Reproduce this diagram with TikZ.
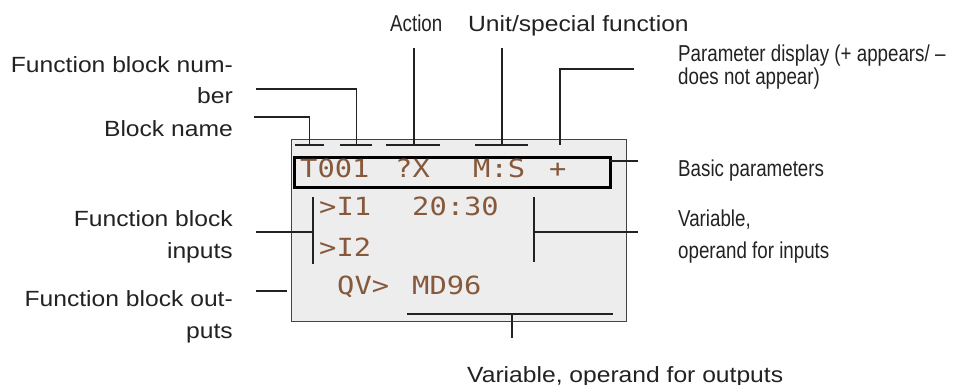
\documentclass[tikz,border=0pt]{standalone}
\usepackage{fontspec}
\setmainfont{Liberation Sans}[FakeStretch=1.12]
\newfontfamily\narrowfont{Liberation Sans}[FakeStretch=0.815]
\newfontfamily\lcdfont{DejaVu Sans Mono}[FakeStretch=1.15]
\usepackage{xcolor}
\usepackage{tikz}
\usetikzlibrary{positioning}
\definecolor{lcdgray}{HTML}{EDEDED}
\definecolor{lcdtext}{HTML}{86593C}
\definecolor{inkgray}{HTML}{222222}

\begin{document}
\begin{tikzpicture}[
  x=1pt,y=-1pt,
  lbl/.style={font=\fontsize{22}{32}\selectfont,text=inkgray,inner sep=0pt,align=right,anchor=base east},
  nlbl/.style={font=\narrowfont\fontsize{23}{23}\selectfont,text=inkgray,inner sep=0pt,align=left,anchor=base west},
  lcd/.style={font=\lcdfont\fontsize{25}{25}\selectfont,text=lcdtext,inner sep=0pt,anchor=base west},
  ln/.style={draw=inkgray,line width=1.2pt},
  bar/.style={draw=inkgray,line width=2.2pt}
]
\useasboundingbox (0,0) rectangle (960,385);
\node[draw=inkgray!85,line width=1.2pt,fill=lcdgray,minimum width=335pt,minimum height=182pt,inner sep=0pt,anchor=north west] (lcdbox) at (291,139) {};
\node[draw=black,line width=2.5pt,minimum width=316pt,minimum height=30pt,inner sep=0pt,anchor=north west] (parbox) at (293,156) {};

\node[lcd] (tname) at (300,177) {T001};
\node[lcd] (tact) at (395,177) {?X};
\node[lcd] (tunit) at (473,177) {M:S};
\node[lcd] (tplus) at (549,177) {+};
\node[lcd] (in1) at (319,215) {>I1};
\node[lcd] (in1val) at (412,215) {20:30};
\node[lcd] (in2) at (319,256) {>I2};
\node[lcd] (qv) at (337,294) {QV>};
\node[lcd] (qvval) at (412,294) {MD96};

\node[lbl] (fbnum) at (233,104) {Function block num-\\ber};
\node[lbl] (blkname) at (233,136) {Block name};
\node[lbl] (fbin) at (233,258) {Function block\\inputs};
\node[lbl] (fbout) at (233,338) {Function block out-\\puts};
\node[nlbl] (action) at (390,31.7) {Action};
\node[lbl,anchor=base west] (unit) at (468,31.7) {Unit/special function};
\node[nlbl] (param) at (678,84.7) {Parameter display (+ appears/ \textendash\\does not appear)};
\node[nlbl] (basic) at (678,176.7) {Basic parameters};
\node[nlbl,font=\narrowfont\fontsize{23}{31.5}\selectfont] (varin) at (678,258) {Variable,\\operand for inputs};
\node[lbl,anchor=base west] (varout) at (467,382) {Variable, operand for outputs};

\coordinate (nameL) at (295,145);
\coordinate (nameR) at (324,145);
\coordinate (nameT) at (309.5,145);
\coordinate (numL) at (340,145);
\coordinate (numR) at (372,145);
\coordinate (numT) at (356.5,145);
\coordinate (actL) at (386,145);
\coordinate (actR) at (440,145);
\coordinate (actT) at (414,145);
\coordinate (unitL) at (475,145);
\coordinate (unitR) at (528,145);
\coordinate (unitT) at (502,145);
\coordinate (plusT) at (560,145);
\coordinate (inTop) at (313,197);
\coordinate (inBot) at (313,264);
\coordinate (inMid) at (313,232);
\coordinate (varTop) at (534,197);
\coordinate (varBot) at (534,262);
\coordinate (varMid) at (534,232);
\coordinate (outL) at (407,314);
\coordinate (outR) at (613,314);
\coordinate (outT) at (512,314);

\coordinate (nameEnd) at (254,117);
\coordinate (numEnd) at (256,89);
\coordinate (actEnd) at (414,48);
\coordinate (unitEnd) at (502,48);
\coordinate (plusEnd) at (634,69);
\coordinate (basicEnd) at (638,161);
\coordinate (parRight) at (610,161);
\coordinate (inEnd) at (256,232);
\coordinate (varEnd) at (638,232);
\coordinate (outEnd) at (256,291);
\coordinate (outStub) at (287,291);
\coordinate (outBot) at (512,338);

\draw[bar] (nameL) -- (nameR);
\draw[bar] (numL) -- (numR);
\draw[bar] (actL) -- (actR);
\draw[bar] (unitL) -- (unitR);
\draw[bar] (inTop) -- (inBot);
\draw[bar] (varTop) -- (varBot);
\draw[bar] (outL) -- (outR);

\draw[ln] (nameEnd) -| (nameT);
\draw[ln] (numEnd) -| (numT);
\draw[ln] (actEnd) -- (actT);
\draw[ln] (unitEnd) -- (unitT);
\draw[ln] (plusT) |- (plusEnd);
\draw[ln] (parRight) -- (basicEnd);
\draw[ln] (inEnd) -- (inMid);
\draw[ln] (varMid) -- (varEnd);
\draw[ln] (outEnd) -- (outStub);
\draw[ln] (outT) -- (outBot);
\end{tikzpicture}
\end{document}
